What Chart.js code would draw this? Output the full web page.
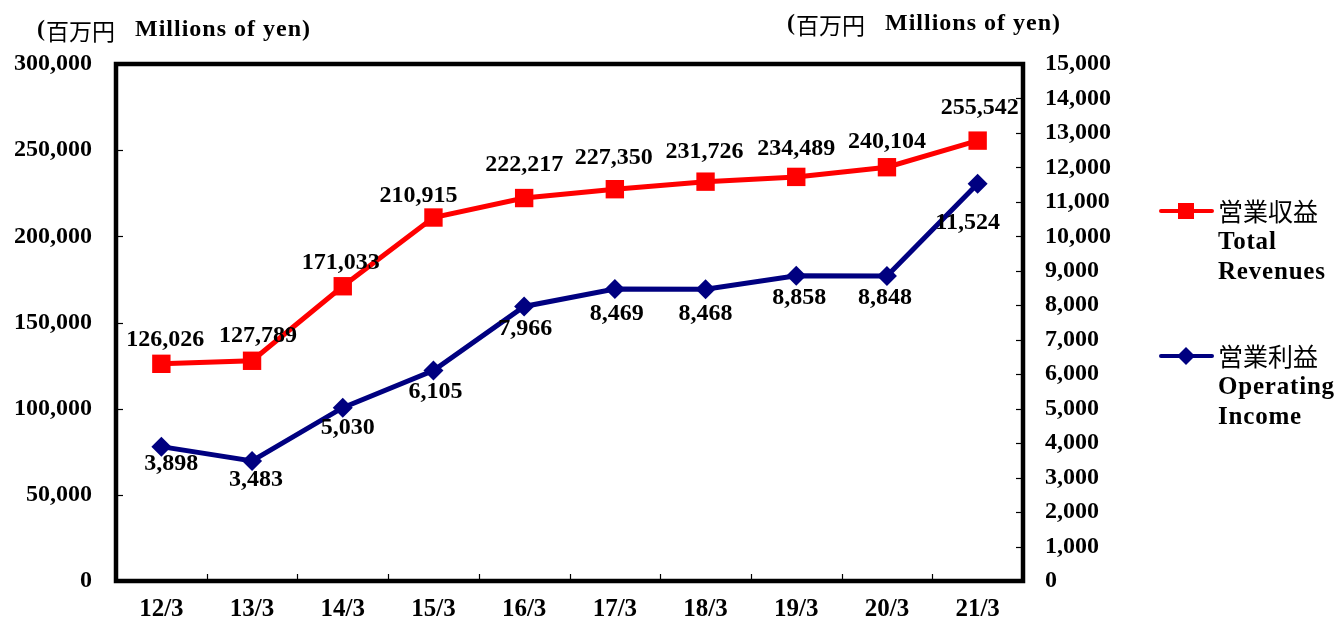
<!DOCTYPE html>
<html>
<head>
<meta charset="utf-8">
<script src="https://cdn.jsdelivr.net/npm/chart.js@4/dist/chart.umd.min.js"></script>
<style>
html,body{margin:0;padding:0;background:#fff;}
#wrap{width:1335px;height:623px;position:relative;}
</style>
</head>
<body>
<div id="wrap"><canvas id="c" width="1335" height="623"></canvas></div>
<script>
const categories = ['12/3','13/3','14/3','15/3','16/3','17/3','18/3','19/3','20/3','21/3'];
const revenues = [126026,127789,171033,210915,222217,227350,231726,234489,240104,255542];
const operatingIncome = [3898,3483,5030,6105,7966,8469,8468,8858,8848,11524];
const leftTicks = [0,50000,100000,150000,200000,250000,300000];
const rightTicks = [0,1000,2000,3000,4000,5000,6000,7000,8000,9000,10000,11000,12000,13000,14000,15000];
const seriesNames = [['営業収益','Total','Revenues'],['営業利益','Operating','Income']];
const unitLabel = ['(', '百万円', 'Millions of yen)'];

// label offsets (pixels) relative to each point
const revLabelOffsets = [[4,-24],[6,-25],[-2,-23],[-15,-22],[0,-33],[-1,-31],[-1,-30],[0,-28],[0,-25],[2,-33]];
const incLabelOffsets = [[10,17],[4,19],[5,20],[2,21],[1,22],[2,25],[0,25],[3,22],[-2,22],[-10,39]];

const SERIF = "'Liberation Serif', 'Times New Roman', serif";
const CJK = "'Noto Sans CJK JP', sans-serif";
const fmt = v => v.toLocaleString('en-US');

const decor = {
  id: 'decor',
  beforeDatasetsDraw(chart) {
    const {ctx, chartArea: a, scales} = chart;
    ctx.save();
    ctx.strokeStyle = '#000';
    ctx.lineWidth = 1.2;
    leftTicks.forEach(v => {
      const y = Math.round(scales.y.getPixelForValue(v)) + 0.5;
      ctx.beginPath(); ctx.moveTo(a.left, y); ctx.lineTo(a.left + 7, y); ctx.stroke();
    });
    rightTicks.forEach(v => {
      const y = Math.round(scales.y1.getPixelForValue(v)) + 0.5;
      ctx.beginPath(); ctx.moveTo(a.right, y); ctx.lineTo(a.right - 7, y); ctx.stroke();
    });
    for (let i = 1; i < categories.length; i++) {
      const x = Math.round((scales.x.getPixelForValue(i - 1) + scales.x.getPixelForValue(i)) / 2) + 0.5;
      ctx.beginPath(); ctx.moveTo(x, a.bottom); ctx.lineTo(x, a.bottom - 7); ctx.stroke();
    }
    ctx.lineWidth = 4.5;
    ctx.lineJoin = 'miter';
    ctx.strokeRect(a.left, a.top, a.right - a.left, a.bottom - a.top);
    ctx.restore();
  },
  afterDatasetsDraw(chart) {
    const {ctx} = chart;
    ctx.save();
    ctx.font = 'bold 24px ' + SERIF;
    ctx.fillStyle = '#000';
    ctx.textAlign = 'center';
    ctx.textBaseline = 'middle';
    const m0 = chart.getDatasetMeta(0), m1 = chart.getDatasetMeta(1);
    m0.data.forEach((p, i) => {
      ctx.fillText(fmt(revenues[i]), p.x + revLabelOffsets[i][0], p.y + revLabelOffsets[i][1]);
    });
    m1.data.forEach((p, i) => {
      ctx.fillText(fmt(operatingIncome[i]), p.x + incLabelOffsets[i][0], p.y + incLabelOffsets[i][1]);
    });

    const drawUnit = (x, y) => {
      ctx.textAlign = 'left';
      ctx.textBaseline = 'middle';
      let cx = x;
      ctx.font = 'bold 24px ' + SERIF;
      ctx.fillText(unitLabel[0], cx, y); cx += ctx.measureText(unitLabel[0]).width + 1;
      ctx.font = '23px ' + CJK;
      ctx.fillText(unitLabel[1], cx, y + 1); cx += ctx.measureText(unitLabel[1]).width + 20;
      ctx.font = 'bold 24px ' + SERIF;
      ctx.letterSpacing = '1px';
      ctx.fillText(unitLabel[2], cx, y);
      ctx.letterSpacing = '0px';
    };
    drawUnit(37, 30);
    drawUnit(787, 24);

    const items = [
      {y: 211, color: '#FF0000', style: 'rect', names: seriesNames[0]},
      {y: 356, color: '#000080', style: 'diamond', names: seriesNames[1]}
    ];
    items.forEach(it => {
      ctx.strokeStyle = it.color; ctx.fillStyle = it.color;
      ctx.lineWidth = 4; ctx.lineCap = 'round';
      ctx.beginPath(); ctx.moveTo(1161, it.y); ctx.lineTo(1212, it.y); ctx.stroke();
      if (it.style === 'rect') {
        ctx.fillRect(1186 - 8, it.y - 8, 16, 16);
      } else {
        ctx.beginPath();
        ctx.moveTo(1186, it.y - 9); ctx.lineTo(1195, it.y); ctx.lineTo(1186, it.y + 9); ctx.lineTo(1177, it.y);
        ctx.closePath(); ctx.fill();
      }
      ctx.fillStyle = '#000';
      ctx.textAlign = 'left'; ctx.textBaseline = 'middle';
      ctx.font = '25px ' + CJK;
      ctx.fillText(it.names[0], 1218, it.y);
      ctx.font = 'bold 25px ' + SERIF;
      ctx.letterSpacing = '0.8px';
      ctx.fillText(it.names[1], 1218, it.y + 32);
      ctx.fillText(it.names[2], 1218, it.y + 62);
      ctx.letterSpacing = '0px';
    });
    ctx.restore();
  }
};

new Chart(document.getElementById('c'), {
  type: 'line',
  data: {
    labels: categories,
    datasets: [
      {
        label: seriesNames[0].join(' '),
        data: revenues,
        yAxisID: 'y',
        borderColor: '#FF0000',
        backgroundColor: '#FF0000',
        borderWidth: 5,
        pointStyle: 'rect',
        pointRadius: 13,
        pointBorderWidth: 0,
        pointHoverRadius: 13,
        tension: 0,
        clip: false
      },
      {
        label: seriesNames[1].join(' '),
        data: operatingIncome,
        yAxisID: 'y1',
        borderColor: '#000080',
        backgroundColor: '#000080',
        borderWidth: 5,
        pointStyle: 'rectRot',
        pointRadius: 10,
        pointBorderWidth: 0,
        pointHoverRadius: 10,
        tension: 0,
        clip: false
      }
    ]
  },
  options: {
    responsive: false,
    animation: false,
    devicePixelRatio: 1,
    layout: {padding: {top: 64, left: 0, right: 0, bottom: 0}},
    plugins: {legend: {display: false}, tooltip: {enabled: false}},
    scales: {
      x: {
        type: 'category',
        offset: true,
        grid: {display: false, drawTicks: false},
        border: {display: false},
        ticks: {color: '#000', font: {family: SERIF, size: 25, weight: 'bold'}, padding: 14, maxRotation: 0, autoSkip: false},
        afterFit: s => { s.height = 42; }
      },
      y: {
        position: 'left',
        min: 0, max: 300000,
        afterBuildTicks: s => { s.ticks = leftTicks.map(v => ({value: v})); },
        grid: {display: false, drawTicks: false},
        border: {display: false},
        ticks: {color: '#000', font: {family: SERIF, size: 24, weight: 'bold'}, padding: 24, callback: v => fmt(v)},
        afterFit: s => { s.width = 116; }
      },
      y1: {
        position: 'right',
        min: 0, max: 15000,
        afterBuildTicks: s => { s.ticks = rightTicks.map(v => ({value: v})); },
        grid: {display: false, drawTicks: false},
        border: {display: false},
        ticks: {color: '#000', font: {family: SERIF, size: 24, weight: 'bold'}, padding: 22, callback: v => fmt(v)},
        afterFit: s => { s.width = 312; }
      }
    }
  },
  plugins: [decor]
});
</script>
</body>
</html>
